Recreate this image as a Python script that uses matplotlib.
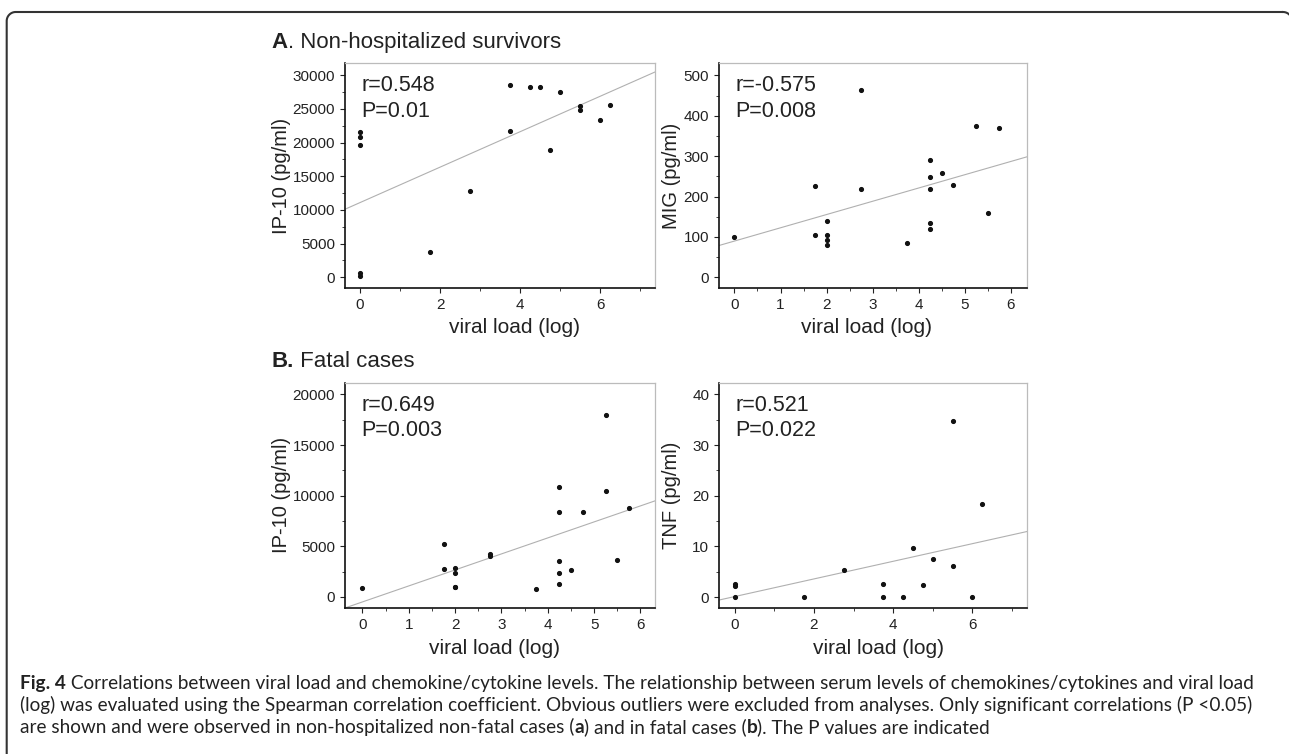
import numpy as np
import matplotlib.pyplot as plt
from matplotlib.ticker import MultipleLocator

plt.rcParams['font.family'] = ['Liberation Sans', 'DejaVu Sans']

# A. Non-hospitalized survivors - IP-10
a_ip10_x = [0, 0, 0, 0, 0, 1.75, 2.75, 3.75, 3.75, 4.25, 4.5, 4.75, 5.0, 5.5, 5.5, 6.0, 6.25]
a_ip10_y = [21600, 20900, 19600, 700, 250, 3800, 12800, 28500, 21800, 28300, 28300,
            18900, 27500, 25400, 24900, 23300, 25600]
a_ip10_fit = (2630, 11100)  # slope, intercept

# A. Non-hospitalized survivors - MIG
a_mig_x = [0, 1.75, 1.75, 2, 2, 2, 2, 2.75, 2.75, 3.75, 4.25, 4.25, 4.25, 4.25, 4.25,
           4.5, 4.75, 5.25, 5.5, 5.75]
a_mig_y = [101, 225, 105, 139, 105, 92, 79, 464, 218, 85, 291, 248, 218, 135, 120,
           257, 228, 374, 159, 370]
a_mig_fit = (32.8, 89.8)

# B. Fatal cases - IP-10
b_ip10_x = [0, 1.75, 1.75, 2, 2, 2, 2, 2.75, 2.75, 3.75, 4.25, 4.25, 4.25, 4.25, 4.25,
            4.5, 4.75, 5.25, 5.25, 5.5, 5.75]
b_ip10_y = [890, 5200, 2800, 2900, 2370, 1000, 950, 4280, 4000, 820, 10860, 8420, 3550,
            2370, 1250, 2630, 8390, 18000, 10460, 3620, 8800]
b_ip10_fit = (1580, -490)

# B. Fatal cases - TNF
b_tnf_x = [0, 0, 0, 1.75, 2.75, 3.75, 3.75, 4.25, 4.5, 4.75, 5.0, 5.5, 5.5, 6.0, 6.25]
b_tnf_y = [2.5, 2.2, 0, 0, 5.26, 2.57, 0, 0, 9.74, 2.3, 7.5, 34.8, 6.05, 0, 18.3]
b_tnf_fit = (1.74, 0.09)

W, H = 1289, 754
fig = plt.figure(figsize=(W / 100, H / 100), dpi=100)


def px_rect(left, top, right, bottom):
    return [left / W, 1 - bottom / H, (right - left) / W, (bottom - top) / H]


panels = [
    dict(x=a_ip10_x, y=a_ip10_y, fit=a_ip10_fit, rect=px_rect(345.3, 63.3, 655.3, 288),
         xlim=(-0.37, 7.38), ylim=(-1590, 31780), xmaj=2, xmin=1, ymaj=5000, ymin=2500,
         ylabel='IP-10 (pg/ml)', r='r=0.548', p='P=0.01', ylab_x=-0.205, xlab_x=0.547),
    dict(x=a_mig_x, y=a_mig_y, fit=a_mig_fit, rect=px_rect(719.3, 63.3, 1026.7, 288),
         xlim=(-0.33, 6.35), ylim=(-26.4, 529.7), xmaj=1, xmin=0.5, ymaj=100, ymin=50,
         ylabel='MIG (pg/ml)', r='r=-0.575', p='P=0.008', ylab_x=-0.155, xlab_x=0.48),
    dict(x=b_ip10_x, y=b_ip10_y, fit=b_ip10_fit, rect=px_rect(345.3, 382.7, 655.3, 608),
         xlim=(-0.37, 6.32), ylim=(-1090, 21150), xmaj=1, xmin=0.5, ymaj=5000, ymin=2500,
         ylabel='IP-10 (pg/ml)', r='r=0.649', p='P=0.003', ylab_x=-0.205, xlab_x=0.48),
    dict(x=b_tnf_x, y=b_tnf_y, fit=b_tnf_fit, rect=px_rect(719.3, 382.7, 1026.7, 608),
         xlim=(-0.39, 7.37), ylim=(-2.17, 42.3), xmaj=2, xmin=1, ymaj=10, ymin=5,
         ylabel='TNF (pg/ml)', r='r=0.521', p='P=0.022', ylab_x=-0.155, xlab_x=0.517),
]

for p in panels:
    ax = fig.add_axes(p['rect'])
    ax.set_xlim(p['xlim'])
    ax.set_ylim(p['ylim'])

    # regression line across the whole x range
    xs = np.array(p['xlim'])
    ax.plot(xs, p['fit'][0] * xs + p['fit'][1], color='#b0b0b0', lw=0.8, zorder=1)
    ax.plot(p['x'], p['y'], 'o', color='#111111', markersize=2.7, zorder=2)

    ax.xaxis.set_major_locator(MultipleLocator(p['xmaj']))
    ax.xaxis.set_minor_locator(MultipleLocator(p['xmin']))
    ax.yaxis.set_major_locator(MultipleLocator(p['ymaj']))
    ax.yaxis.set_minor_locator(MultipleLocator(p['ymin']))
    ax.tick_params(which='major', direction='out', length=3.3, width=0.8,
                   labelsize=11, pad=4, colors='#222222')
    ax.tick_params(which='minor', direction='out', length=2.0, width=0.6, colors='#222222')

    for side in ('top', 'right'):
        ax.spines[side].set_color('#bbbbbb')
        ax.spines[side].set_linewidth(0.9)
    for side in ('left', 'bottom'):
        ax.spines[side].set_color('#111111')
        ax.spines[side].set_linewidth(1.2)

    ax.set_xlabel('viral load (log)', fontsize=15, color='#222222', va='center')
    ax.xaxis.set_label_coords(p['xlab_x'], -0.178)
    ax.set_ylabel(p['ylabel'], fontsize=14.5, color='#222222', va='center')
    ax.yaxis.set_label_coords(p['ylab_x'], 0.5)

    ax.text(0.052, 0.9, p['r'], transform=ax.transAxes, fontsize=15.5,
            color='#222222', va='center', ha='left')
    ax.text(0.052, 0.787, p['p'], transform=ax.transAxes, fontsize=15.5,
            color='#222222', va='center', ha='left')

# overlay in pixel coordinates for headings, caption and border
ov = fig.add_axes([0, 0, 1, 1])
ov.set_xlim(0, W)
ov.set_ylim(H, 0)
ov.axis('off')


def rich_text(x, y, parts, **kw):
    t = ov.text(x, y, parts[0][0], fontweight=parts[0][1], va='bottom', **kw)
    for s, w in parts[1:]:
        t = ov.annotate(s, xy=(1, 0), xycoords=t, fontweight=w, va='bottom', **kw)
    return t


rich_text(271.7, 53, [('A', 'bold'), ('. Non-hospitalized survivors', 'normal')],
          fontsize=16, color='#222222')
rich_text(271.7, 372, [('B.', 'bold'), (' Fatal cases', 'normal')],
          fontsize=16, color='#222222')

cap_kw = dict(fontsize=13.65, color='#222222', family=['Lato', 'DejaVu Sans'])
rich_text(20, 692, [('Fig. 4', 'bold'),
                    (' Correlations between viral load and chemokine/cytokine levels. '
                     'The relationship between serum levels of chemokines/cytokines and viral load',
                     'normal')], **cap_kw)
rich_text(20, 714, [('(log) was evaluated using the Spearman correlation coefficient. '
                     'Obvious outliers were excluded from analyses. Only significant '
                     'correlations (P <0.05)', 'normal')], **cap_kw)
rich_text(20, 736, [('are shown and were observed in non-hospitalized non-fatal cases (', 'normal'),
                    ('a', 'bold'), (') and in fatal cases (', 'normal'), ('b', 'bold'),
                    ('). The P values are indicated', 'normal')], **cap_kw)

# frame: left and top edges with rounded corners
rad = 9
t = np.linspace(np.pi, 1.5 * np.pi, 20)
bx = np.concatenate([[6.7], 6.7 + rad + rad * np.cos(t), [W - 6]])
by = np.concatenate([[H], 12 + rad + rad * np.sin(t), [12]])
ov.plot(bx, by, color='#333333', lw=1.5, solid_capstyle='butt')
t2 = np.linspace(1.5 * np.pi, 1.75 * np.pi, 10)
ov.plot(W - 6 + rad * np.cos(t2), 12 + rad + rad * np.sin(t2), color='#333333', lw=1.5)

fig.savefig('out.png', dpi=100)
